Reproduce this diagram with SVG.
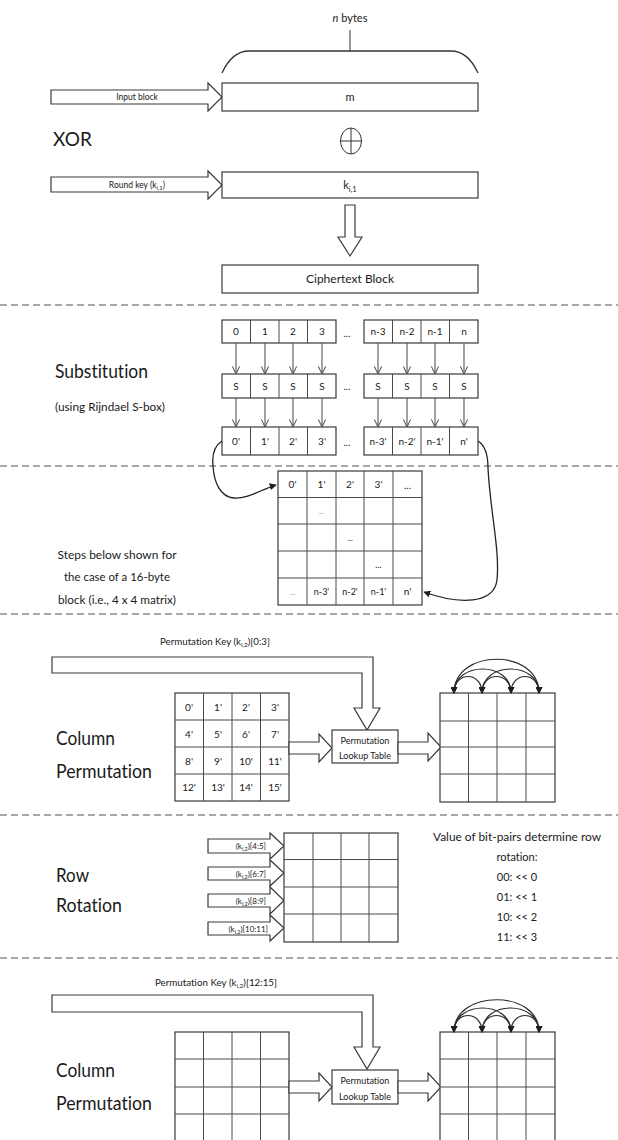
<svg xmlns="http://www.w3.org/2000/svg" width="618" height="1140" viewBox="0 0 618 1140">
  <style>
    .t { font-family: Lato, "Liberation Sans", sans-serif; fill: #1a1a1a; font-variant-ligatures: none; }
    .c { text-anchor: middle; }
    .sm { font-size: 9px; }
    .cell { font-size: 10px; }
    .hd { font-size: 20px; }
    .box { fill: #fff; stroke: #3a3a3a; stroke-width: 1.2; }
    .grid { fill: none; stroke: #4a4a4a; stroke-width: 1; }
    .hollow { fill: #fff; stroke: #3a3a3a; stroke-width: 1.2; stroke-linejoin: miter; }
    .sep { stroke: #8c8c8c; stroke-width: 1.6; stroke-dasharray: 7 4; fill: none; }
    .flow { fill: none; stroke: #555; stroke-width: 1.1; marker-end: url(#vhead); }
    .curve { fill: none; stroke: #222; stroke-width: 1.3; marker-end: url(#solid); }
    .arc { fill: none; stroke: #2a2a2a; stroke-width: 1.2; marker-start: url(#solid); marker-end: url(#solid); }
  </style>
  <defs>
    <marker id="vhead" viewBox="0 0 10 10" refX="9.5" refY="5" markerWidth="8" markerHeight="8" orient="auto" markerUnits="userSpaceOnUse">
      <path d="M0,0.5 L9.5,5 L0,9.5" fill="none" stroke="#555" stroke-width="1.3"/>
    </marker>
    <marker id="solid" viewBox="0 0 10 10" refX="9" refY="5" markerWidth="7" markerHeight="7" orient="auto-start-reverse" markerUnits="userSpaceOnUse">
      <path d="M0,0 L10,5 L0,10 z" fill="#1e1e1e"/>
    </marker>
  </defs>

  <rect width="618" height="1140" fill="#fff"/>

  <!-- section separators -->
  <g id="separators">
    <line class="sep" x1="0" y1="305" x2="618" y2="305"/>
    <line class="sep" x1="0" y1="466" x2="618" y2="466"/>
    <line class="sep" x1="0" y1="614" x2="618" y2="614"/>
    <line class="sep" x1="0" y1="815" x2="618" y2="815"/>
    <line class="sep" x1="0" y1="958" x2="618" y2="958"/>
  </g>

  <!-- ===== XOR stage ===== -->
  <g id="brace">
    <text class="t c" x="350" y="22" font-size="11"><tspan font-style="italic">n</tspan> bytes</text>
    <line x1="350" y1="30" x2="350" y2="51" stroke="#333" stroke-width="1"/>
    <path d="M222,73 C228,60 237,51 249,51 H451 C463,51 472,60 478,73" fill="none" stroke="#333" stroke-width="1.3"/>
  </g>

  <g id="label-xor">
    <text class="t" x="53" y="146" font-size="19">XOR</text>
  </g>

  <g id="input-block">
    <polygon class="hollow" points="51,90 208,90 208,83 222,97 208,111 208,104 51,104"/>
    <text class="t c" x="137" y="100" font-size="8.5">Input block</text>
  </g>

  <g id="block-m">
    <rect class="box" x="222" y="83" width="256" height="28"/>
    <text class="t c" x="350" y="101" font-size="11">m</text>
  </g>

  <g id="xor-symbol">
    <ellipse cx="351" cy="141" rx="10.5" ry="13" fill="none" stroke="#333" stroke-width="1"/>
    <line x1="340.5" y1="141" x2="361.5" y2="141" stroke="#333" stroke-width="1"/>
    <line x1="351" y1="128" x2="351" y2="154" stroke="#333" stroke-width="1"/>
  </g>

  <g id="round-key">
    <polygon class="hollow" points="51,177 208,177 208,171 222,185 208,199 208,192 51,192"/>
    <text class="t c" x="137" y="188" font-size="8.5">Round key (k<tspan font-size="6" dy="2">i,1</tspan><tspan dy="-2">)</tspan></text>
  </g>

  <g id="block-k">
    <rect class="box" x="222" y="172" width="256" height="26"/>
    <text class="t c" x="350" y="189" font-size="11">k<tspan font-size="7.5" dy="3">i,1</tspan></text>
  </g>

  <g id="down-arrow">
    <polygon class="hollow" points="345,205 355,205 355,237 362,237 350,256 338,237 345,237"/>
  </g>

  <g id="ciphertext">
    <rect class="box" x="222" y="265" width="256" height="28"/>
    <text class="t c" x="350" y="283" font-size="12">Ciphertext Block</text>
  </g>

  <!-- ===== Substitution stage ===== -->
  <g id="label-substitution">
    <text class="t" x="55" y="378" font-size="19" textLength="93" lengthAdjust="spacingAndGlyphs">Substitution</text>
    <text class="t" x="55" y="411" font-size="10.5" textLength="110" lengthAdjust="spacingAndGlyphs">(using Rijndael S-box)</text>
  </g>

  <g id="bytes-in">
    <rect class="box" x="222" y="320" width="114" height="23"/>
    <rect class="box" x="364" y="320" width="114" height="23"/>
    <path class="grid" d="M250.5,320 V343 M279,320 V343 M307.5,320 V343 M392.5,320 V343 M421,320 V343 M449.5,320 V343"/>
    <g class="t c cell">
      <text x="236" y="335">0</text><text x="265" y="335">1</text><text x="293" y="335">2</text><text x="322" y="335">3</text>
      <text x="347" y="337">...</text>
      <text x="378" y="335">n-3</text><text x="407" y="335">n-2</text><text x="435" y="335">n-1</text><text x="464" y="335">n</text>
    </g>
  </g>

  <g id="sbox-row">
    <rect class="box" x="222" y="374" width="114" height="24"/>
    <rect class="box" x="364" y="374" width="114" height="24"/>
    <path class="grid" d="M250.5,374 V398 M279,374 V398 M307.5,374 V398 M392.5,374 V398 M421,374 V398 M449.5,374 V398"/>
    <g class="t c cell">
      <text x="236" y="390">S</text><text x="265" y="390">S</text><text x="293" y="390">S</text><text x="322" y="390">S</text>
      <text x="347" y="390">...</text>
      <text x="378" y="390">S</text><text x="407" y="390">S</text><text x="435" y="390">S</text><text x="464" y="390">S</text>
    </g>
  </g>

  <g id="bytes-out">
    <rect class="box" x="222" y="427" width="114" height="28"/>
    <rect class="box" x="364" y="427" width="114" height="28"/>
    <path class="grid" d="M250.5,427 V455 M279,427 V455 M307.5,427 V455 M392.5,427 V455 M421,427 V455 M449.5,427 V455"/>
    <g class="t c cell">
      <text x="236" y="445">0'</text><text x="265" y="445">1'</text><text x="293" y="445">2'</text><text x="322" y="445">3'</text>
      <text x="347" y="446">...</text>
      <text x="378" y="445">n-3'</text><text x="407" y="445">n-2'</text><text x="435" y="445">n-1'</text><text x="464" y="445">n'</text>
    </g>
  </g>

  <g id="connectors">
    <!-- byte -> S-box -->
    <line class="flow" x1="236" y1="343" x2="236" y2="374"/>
    <line class="flow" x1="265" y1="343" x2="265" y2="374"/>
    <line class="flow" x1="293" y1="343" x2="293" y2="374"/>
    <line class="flow" x1="322" y1="343" x2="322" y2="374"/>
    <line class="flow" x1="378" y1="343" x2="378" y2="374"/>
    <line class="flow" x1="407" y1="343" x2="407" y2="374"/>
    <line class="flow" x1="435" y1="343" x2="435" y2="374"/>
    <line class="flow" x1="464" y1="343" x2="464" y2="374"/>
    <!-- S-box -> substituted byte -->
    <line class="flow" x1="236" y1="398" x2="236" y2="427"/>
    <line class="flow" x1="265" y1="398" x2="265" y2="427"/>
    <line class="flow" x1="293" y1="398" x2="293" y2="427"/>
    <line class="flow" x1="322" y1="398" x2="322" y2="427"/>
    <line class="flow" x1="378" y1="398" x2="378" y2="427"/>
    <line class="flow" x1="407" y1="398" x2="407" y2="427"/>
    <line class="flow" x1="435" y1="398" x2="435" y2="427"/>
    <line class="flow" x1="464" y1="398" x2="464" y2="427"/>
    <!-- output bytes into the state matrix -->
    <path class="curve" d="M222,441 C214,446 212,456 213,466 C214,482 220,497 234,498 C248,499 262,489 276,485"/>
    <path class="curve" d="M478,441 C486,446 488,456 488,468 C490,510 500,550 497,580 C494,604 460,605 424,592"/>
  </g>

  <!-- ===== state matrix ===== -->
  <g id="state-matrix">
    <rect class="box" x="278" y="471" width="144" height="134"/>
    <path class="grid" d="M307,471 V605 M336,471 V605 M364,471 V605 M393,471 V605 M278,497.5 H422 M278,524 H422 M278,551 H422 M278,578 H422"/>
    <g class="t c cell">
      <text x="292.5" y="488">0'</text><text x="321.5" y="488">1'</text><text x="350" y="488">2'</text><text x="378.5" y="488">3'</text><text x="407.5" y="489">...</text>
      <text x="321.5" y="514" fill="#999" font-size="8">...</text>
      <text x="350" y="541" font-size="8">...</text>
      <text x="378.5" y="568" font-size="9">...</text>
      <text x="292.5" y="595" fill="#999" font-size="8">...</text>
      <text x="321.5" y="595" font-size="9">n-3'</text><text x="350" y="595" font-size="9">n-2'</text><text x="378.5" y="595" font-size="9">n-1'</text><text x="407.5" y="595">n'</text>
    </g>
  </g>

  <g id="note-16-byte">
    <text class="t c" x="117" y="559" font-size="11" textLength="119" lengthAdjust="spacingAndGlyphs">Steps below shown for</text>
    <text class="t c" x="117" y="581" font-size="11" textLength="106" lengthAdjust="spacingAndGlyphs">the case of a 16-byte</text>
    <text class="t c" x="117" y="604" font-size="11" textLength="118" lengthAdjust="spacingAndGlyphs">block (i.e., 4 x 4 matrix)</text>
  </g>

  <!-- ===== Column permutation (key bytes 0:3) ===== -->
  <g id="colperm1-label">
    <text class="t hd" x="56" y="745" textLength="59" lengthAdjust="spacingAndGlyphs">Column</text>
    <text class="t hd" x="56" y="778" textLength="96" lengthAdjust="spacingAndGlyphs">Permutation</text>
  </g>

  <g id="colperm1-key">
    <text class="t c sm" x="215" y="645" textLength="110" lengthAdjust="spacingAndGlyphs">Permutation Key (k<tspan font-size="6" dy="2">i,2</tspan><tspan dy="-2">)[0:3]</tspan></text>
    <path class="hollow" d="M52,657 H373 V708 H380 L367,730 L354,708 H362 V673 H52 Z"/>
  </g>

  <g id="colperm1-matrix">
    <rect class="box" x="175" y="693" width="114" height="108"/>
    <path class="grid" d="M203.5,693 V801 M232,693 V801 M260.5,693 V801 M175,720 H289 M175,747 H289 M175,774 H289"/>
    <g class="t c cell">
      <text x="189" y="711">0'</text><text x="218" y="711">1'</text><text x="246" y="711">2'</text><text x="275" y="711">3'</text>
      <text x="189" y="738">4'</text><text x="218" y="738">5'</text><text x="246" y="738">6'</text><text x="275" y="738">7'</text>
      <text x="189" y="765">8'</text><text x="218" y="765">9'</text><text x="246" y="765">10'</text><text x="275" y="765">11'</text>
      <text x="189" y="791">12'</text><text x="218" y="791">13'</text><text x="246" y="791">14'</text><text x="275" y="791">15'</text>
    </g>
  </g>

  <g id="colperm1-table">
    <polygon class="hollow" points="289,742 319,742 319,734 332,748 319,762 319,754 289,754"/>
    <rect class="box" x="332" y="730" width="66" height="33"/>
    <text class="t c" x="365" y="744" font-size="9">Permutation</text>
    <text class="t c" x="365" y="759" font-size="9">Lookup Table</text>
    <polygon class="hollow" points="398,742 428,742 428,733 441,747 428,761 428,754 398,754"/>
  </g>

  <g id="colperm1-result">
    <rect class="box" x="440" y="693" width="115" height="109"/>
    <path class="grid" d="M468.5,693 V802 M497,693 V802 M526,693 V802 M440,721 H555 M440,747 H555 M440,774 H555"/>
    <path class="arc" d="M454,693 C454,671 482,671 482,693"/>
    <path class="arc" d="M482,693 C482,671 511,671 511,693"/>
    <path class="arc" d="M511,693 C511,671 539,671 539,693"/>
    <path class="arc" d="M454,693 C454,661 511,661 511,693"/>
    <path class="arc" d="M482,693 C482,661 539,661 539,693"/>
    <path class="arc" d="M454,693 C454,648 539,648 539,693"/>
  </g>

  <!-- ===== Row rotation ===== -->
  <g id="rowrot-label">
    <text class="t hd" x="56" y="882" textLength="33" lengthAdjust="spacingAndGlyphs">Row</text>
    <text class="t hd" x="56" y="912" textLength="66" lengthAdjust="spacingAndGlyphs">Rotation</text>
  </g>

  <g id="rowrot-keys">
    <polygon class="hollow" points="208,839 270,839 270,833 284,846 270,859 270,853 208,853"/>
    <polygon class="hollow" points="208,867 270,867 270,860 284,873 270,886 270,880 208,880"/>
    <polygon class="hollow" points="208,894 270,894 270,887 284,900.5 270,914 270,907 208,907"/>
    <polygon class="hollow" points="208,922 270,922 270,915 284,928 270,941 270,935 208,935"/>
    <g class="t" font-size="8" text-anchor="end">
      <text x="266" y="849">(k<tspan font-size="5.5" dy="2">i,2</tspan><tspan dy="-2">)[4:5]</tspan></text>
      <text x="266" y="876.5">(k<tspan font-size="5.5" dy="2">i,2</tspan><tspan dy="-2">)[6:7]</tspan></text>
      <text x="266" y="903.5">(k<tspan font-size="5.5" dy="2">i,2</tspan><tspan dy="-2">)[8:9]</tspan></text>
      <text x="268" y="931.5">(k<tspan font-size="5.5" dy="2">i,2</tspan><tspan dy="-2">)[10:11]</tspan></text>
    </g>
  </g>

  <g id="rowrot-matrix">
    <rect class="box" x="284" y="833" width="114" height="109"/>
    <path class="grid" d="M313,833 V942 M341,833 V942 M369,833 V942 M284,859.5 H398 M284,887 H398 M284,914 H398"/>
  </g>

  <g id="rowrot-note">
    <g class="t c" font-size="11">
      <text x="517" y="841" textLength="168" lengthAdjust="spacingAndGlyphs">Value of bit-pairs determine row</text>
      <text x="517" y="861">rotation:</text>
      <text x="517" y="881">00: &lt;&lt; 0</text>
      <text x="517" y="901">01: &lt;&lt; 1</text>
      <text x="517" y="921">10: &lt;&lt; 2</text>
      <text x="517" y="941">11: &lt;&lt; 3</text>
    </g>
  </g>

  <!-- ===== Column permutation (key bytes 12:15) ===== -->
  <g id="colperm2-label">
    <text class="t hd" x="56" y="1077" textLength="59" lengthAdjust="spacingAndGlyphs">Column</text>
    <text class="t hd" x="56" y="1110" textLength="96" lengthAdjust="spacingAndGlyphs">Permutation</text>
  </g>

  <g id="colperm2-key">
    <text class="t c sm" x="216" y="986" textLength="122" lengthAdjust="spacingAndGlyphs">Permutation Key (k<tspan font-size="6" dy="2">i,2</tspan><tspan dy="-2">)[12:15]</tspan></text>
    <path class="hollow" d="M52,995 H373 V1047 H380 L367,1069 L354,1047 H362 V1012 H52 Z"/>
  </g>

  <g id="colperm2-matrix">
    <rect class="box" x="175" y="1032" width="114" height="112"/>
    <path class="grid" d="M203.5,1032 V1140 M232,1032 V1140 M260.5,1032 V1140 M175,1059 H289 M175,1087 H289 M175,1114 H289"/>
  </g>

  <g id="colperm2-table">
    <polygon class="hollow" points="289,1081 319,1081 319,1073 332,1087 319,1101 319,1093 289,1093"/>
    <rect class="box" x="332" y="1070" width="66" height="34"/>
    <text class="t c" x="365" y="1084" font-size="9">Permutation</text>
    <text class="t c" x="365" y="1100" font-size="9">Lookup Table</text>
    <polygon class="hollow" points="398,1081 428,1081 428,1073 441,1087 428,1101 428,1093 398,1093"/>
  </g>

  <g id="colperm2-result">
    <rect class="box" x="440" y="1032" width="115" height="112"/>
    <path class="grid" d="M468.5,1032 V1140 M497,1032 V1140 M526,1032 V1140 M440,1059 H555 M440,1087 H555 M440,1114 H555"/>
    <path class="arc" d="M454,1032 C454,1010 482,1010 482,1032"/>
    <path class="arc" d="M482,1032 C482,1010 511,1010 511,1032"/>
    <path class="arc" d="M511,1032 C511,1010 539,1010 539,1032"/>
    <path class="arc" d="M454,1032 C454,1000 511,1000 511,1032"/>
    <path class="arc" d="M482,1032 C482,1000 539,1000 539,1032"/>
    <path class="arc" d="M454,1032 C454,989 539,989 539,1032"/>
  </g>
</svg>
